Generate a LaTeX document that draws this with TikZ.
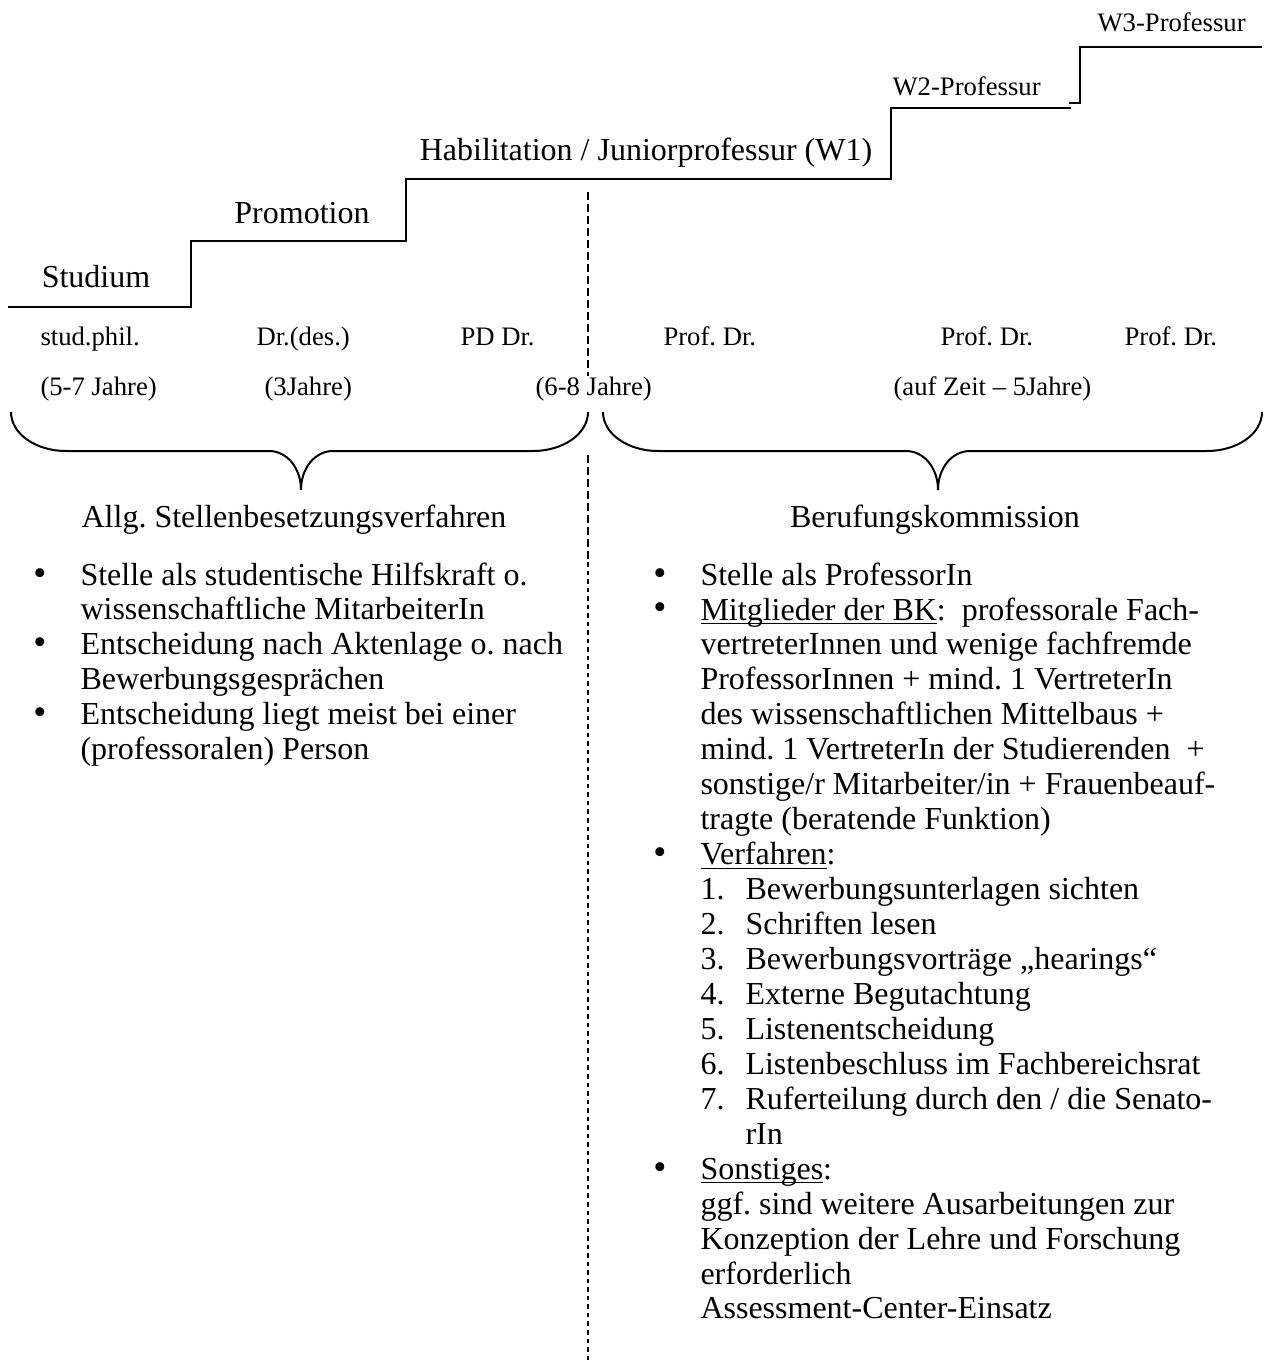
\documentclass[tikz,border=0pt]{standalone}
\usepackage{fontspec}
\setmainfont{Liberation Serif}
\usepackage{tikz}
\usetikzlibrary{positioning}
\frenchspacing

% underline sitting close to the baseline
\newcommand{\ulabel}[1]{\underline{\smash{#1}}}

% brace: left end, tip, right end (x values)
\newcommand{\curlybrace}[3]{%
  \draw[brace line] (#1,412) .. controls (#1,434) and ({#1+25},451) .. ({#1+55},451)
    -- ({#2-32},451) .. controls ({#2-14},451) and (#2,468) .. (#2,490)
    .. controls (#2,468) and ({#2+14},451) .. ({#2+32},451)
    -- ({#3-55},451) .. controls ({#3-25},451) and (#3,434) .. (#3,412);}

\begin{document}
\begin{tikzpicture}[x=0.375pt,y=-0.375pt,
  stair line/.style={line width=0.8pt},
  brace line/.style={line width=0.75pt},
  long dashes/.style={line width=0.75pt,dash pattern=on 3pt off 1.5pt},
  short dashes/.style={line width=0.75pt,dash pattern=on 1.7pt off 1.5pt},
  step label/.style={font=\fontsize{12}{14}\selectfont,inner sep=0pt},
  row label/.style={font=\fontsize{10}{12}\selectfont,inner sep=0pt,anchor=base west},
  body text/.style={font=\fontsize{12}{13.1}\selectfont,inner sep=0pt,anchor=base west,align=left},
  dot/.style={font=\fontsize{14}{14}\selectfont,inner sep=0pt,anchor=base}]

  \useasboundingbox (0,0) rectangle (1265,1364);

  % staircase
  \draw[stair line] (8,307) -- (191,307) -- (191,241) -- (406,241) -- (406,179)
    -- (891,179) -- (891,108) -- (1071,108);
  \draw[stair line] (1069,103) -- (1080,103) -- (1080,47) -- (1262,47);

  \node[step label,anchor=base] (stud) at (96,287) {Studium};
  \node[step label,anchor=base] (prom) at (302,223) {Promotion};
  \node[step label,anchor=base] (habil) at (646,160) {Habilitation / Juniorprofessur (W1)};
  \node[row label] (w2) at (892,95) {W2-Professur};
  \node[row label] (w3) at (1097,31) {W3-Professur};

  % titles and durations
  \node[row label] (t1) at (40,345) {stud.phil.};
  \node[row label] (t2) at (256,345) {Dr.(des.)};
  \node[row label] (t3) at (460,345) {PD Dr.};
  \node[row label] (t4) at (663,345) {Prof. Dr.};
  \node[row label] (t5) at (940,345) {Prof. Dr.};
  \node[row label] (t6) at (1124,345) {Prof. Dr.};

  \node[row label] (d1) at (40,395) {(5-7 Jahre)};
  \node[row label] (d2) at (264,395) {(3Jahre)};
  \node[row label] (d3) at (535,395) {(6-8 Jahre)};
  \node[row label] (d4) at (893,395) {(auf Zeit – 5Jahre)};

  % braces
  \curlybrace{11}{301}{588}
  \curlybrace{603}{938}{1262}

  % divider
  \coordinate (dtop) at (588,192);
  \coordinate (dgap) at (588,376);
  \coordinate (dresume) at (588,455);
  \coordinate (dswitch) at (588,562);
  \coordinate (dend) at (588,1364);
  \draw[long dashes] (dtop) -- (dgap);
  \draw[long dashes] (dresume) -- (dswitch);
  \draw[short dashes] (dswitch) -- (dend);

  % left column (multi-line nodes sit on their last baseline)
  \node[step label,anchor=base] (allg) at (294,527) {Allg. Stellenbesetzungsverfahren};
  \node[dot] (lb1) at (40,585) {•};
  \node[body text] (l1) at (80,619.95) {Stelle als studentische Hilfskraft o.\\wissenschaftliche MitarbeiterIn};
  \node[dot] (lb2) at (40,654.9) {•};
  \node[body text] (l2) at (80,689.85) {Entscheidung nach Aktenlage o. nach\\Bewerbungsgesprächen};
  \node[dot] (lb3) at (40,724.8) {•};
  \node[body text] (l3) at (80,759.75) {Entscheidung liegt meist bei einer\\(professoralen) Person};

  % right column
  \node[step label,anchor=base] (beruf) at (935,527) {Berufungskommission};
  \node[dot] (rb1) at (660,585) {•};
  \node[body text] (r1) at (700,585) {Stelle als ProfessorIn};
  \node[dot] (rb2) at (660,619.95) {•};
  \node[body text] (r2) at (700,829.65) {\ulabel{Mitglieder der BK}:\ \ professorale Fach-\\
    vertreterInnen und wenige fachfremde\\
    ProfessorInnen + mind. 1 VertreterIn\\
    des wissenschaftlichen Mittelbaus +\\
    mind. 1 VertreterIn der Studierenden\ \ +\\
    sonstige/r Mitarbeiter/in + Frauenbeauf-\\
    tragte (beratende Funktion)};
  \node[dot] (rb3) at (660,864.6) {•};
  \node[body text] (r3) at (700,864.6) {\ulabel{Verfahren}:};
  \foreach \txt/\extra [count=\n] in {Bewerbungsunterlagen sichten/0, Schriften lesen/0,
      Bewerbungsvorträge „hearings“/0, Externe Begutachtung/0, Listenentscheidung/0,
      Listenbeschluss im Fachbereichsrat/0, {Ruferteilung durch den / die Senato-\\rIn}/1}{
    \node[body text] (num\n) at (700,{864.6+34.95*\n}) {\n.};
    \node[body text] (step\n) at (745,{864.6+34.95*(\n+\extra)}) {\txt};
  }
  \node[dot] (rb4) at (660,1179.15) {•};
  \node[body text] (r4) at (700,1318.95) {\ulabel{Sonstiges}:\\
    ggf. sind weitere Ausarbeitungen zur\\
    Konzeption der Lehre und Forschung\\
    erforderlich\\
    Assessment-Center-Einsatz};
\end{tikzpicture}
\end{document}
